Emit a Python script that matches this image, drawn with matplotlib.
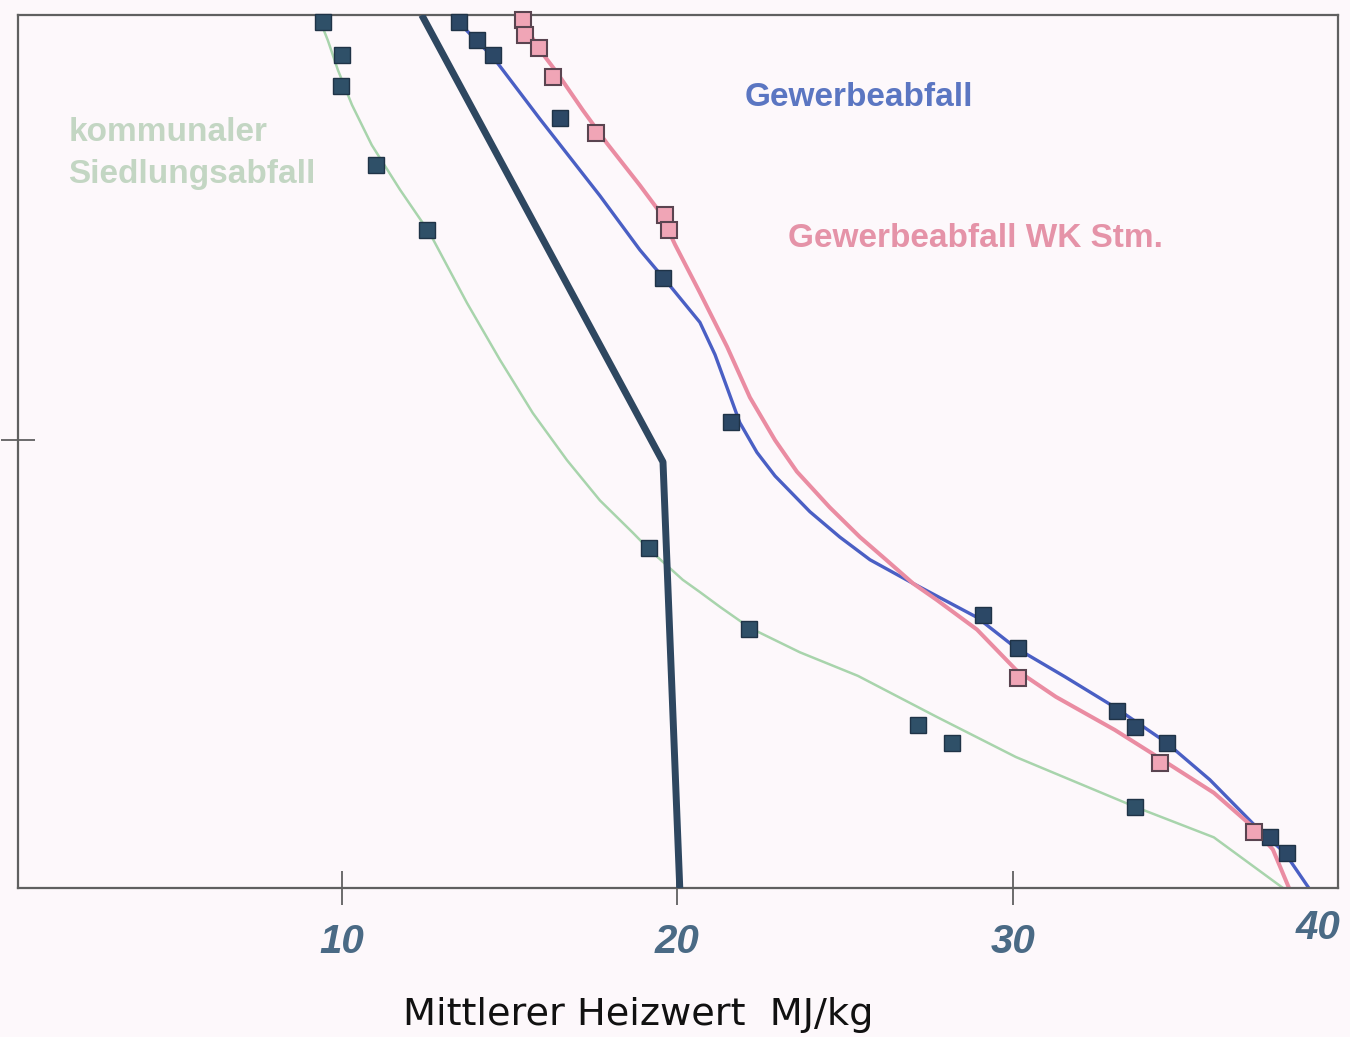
import numpy as np
import matplotlib.pyplot as plt

# kommunaler Siedlungsabfall (green)
green_x = [9.43, 10.0, 9.97, 11.01, 12.53, 19.15, 22.13, 27.17, 28.18, 33.64]
green_y = [99.2, 95.4, 91.9, 82.8, 75.4, 38.9, 29.7, 18.7, 16.6, 9.3]
green_cx = [9.28, 9.58, 9.88, 10.30, 10.89, 11.73, 12.62, 13.73, 14.71, 15.69, 16.71, 17.69,
            18.67, 19.18, 20.16, 20.67, 21.27, 22.16, 23.65, 25.38, 27.73, 30.09, 33.64, 35.99, 38.05]
green_cy = [100, 97.1, 93.7, 89.7, 85.1, 80.0, 75.0, 67.0, 60.5, 54.4, 49.0, 44.4,
            40.7, 38.7, 35.3, 33.9, 32.2, 29.8, 27.0, 24.3, 19.6, 15.0, 9.3, 5.8, 0]

# Gewerbeabfall (blue)
blue_x = [13.49, 14.02, 14.50, 16.50, 19.57, 21.59, 29.10, 30.15, 33.10, 33.64, 34.59, 37.66, 38.17]
blue_y = [99.2, 97.1, 95.4, 88.2, 69.9, 53.4, 31.3, 27.5, 20.3, 18.4, 16.6, 5.8, 4.0]
blue_cx = [13.28, 13.90, 14.50, 15.90, 17.69, 18.88, 19.69, 20.67, 21.12, 21.51, 21.86, 22.37,
           22.91, 23.95, 24.84, 25.74, 27.02, 28.93, 30.09, 31.55, 33.04, 34.56, 35.87, 37.15,
           38.11, 38.82]
blue_cy = [100, 97.5, 95.2, 88.1, 79.3, 73.1, 69.4, 64.8, 61.1, 57.0, 53.3, 49.9,
           47.2, 43.1, 40.2, 37.6, 34.9, 31.0, 27.5, 24.2, 20.7, 16.7, 12.4, 7.4,
           4.0, 0]

# Gewerbeabfall WK Stm. (pink)
pink_x = [15.40, 15.45, 15.87, 16.29, 17.57, 19.63, 19.75, 30.15, 34.38, 37.18]
pink_y = [99.4, 97.7, 96.2, 92.9, 86.5, 77.1, 75.4, 24.1, 14.3, 6.4]
pink_cx = [15.25, 15.90, 16.41, 17.18, 17.90, 18.88, 19.48, 19.93, 20.67, 21.48, 22.16, 22.91,
           23.56, 24.54, 25.44, 26.22, 27.02, 27.73, 28.93, 30.09, 31.28, 33.04, 34.32, 35.99,
           37.15, 37.75, 38.23]
pink_cy = [100, 96.0, 93.4, 89.1, 85.3, 80.5, 77.4, 73.7, 68.2, 62.0, 56.2, 51.3,
           47.7, 43.6, 40.2, 37.6, 34.9, 33.0, 29.6, 25.0, 21.9, 18.1, 15.0, 10.9,
           7.0, 4.4, 0]

# thick dark line
dark_x = [12.38, 19.57, 20.07]
dark_y = [100, 48.8, 0]

bg = '#fdf8fb'
fig = plt.figure(figsize=(13.5, 10.37), dpi=100, facecolor=bg)
ax = fig.add_axes([0.0133, 0.1437, 0.9778, 0.8418], facecolor=bg)

ax.plot(green_cx, green_cy, color='#a8d4ac', linewidth=1.8, zorder=2, solid_joinstyle='round')
ax.plot(blue_cx, blue_cy, color='#4a5fc4', linewidth=2.4, zorder=2, solid_joinstyle='round')
ax.plot(pink_cx, pink_cy, color='#ea8ca2', linewidth=2.9, zorder=2, solid_joinstyle='round')
ax.plot(dark_x, dark_y, color='#2e4760', linewidth=5, zorder=3, solid_capstyle='butt')

ax.plot(green_x, green_y, 's', ms=12, mfc='#2f5068', mec='#1f3347', mew=1, zorder=4, clip_on=False)
ax.plot(blue_x, blue_y, 's', ms=12, mfc='#2c4866', mec='#1f3347', mew=1, zorder=4, clip_on=False)
ax.plot(pink_x, pink_y, 's', ms=12, mfc='#f0a5b6', mec='#5a4450', mew=1.5, zorder=4, clip_on=False)

ax.set_xlim(0.343, 39.69)
ax.set_ylim(0, 100)

for s in ax.spines.values():
    s.set_color('#606060')
    s.set_linewidth(1.6)

ax.set_xticks([10, 20, 30])
ax.set_xticklabels(['10', '20', '30'])
ax.set_yticks([51.3])
ax.set_yticklabels([])
ax.tick_params(axis='x', direction='inout', length=25, width=1.3, color='#606060', pad=13,
               labelsize=29, labelcolor='#4a6a85')
ax.tick_params(axis='y', direction='inout', length=25, width=1.3, color='#606060')
for lab in ax.get_xticklabels():
    lab.set_fontfamily('Liberation Sans')
    lab.set_fontweight('bold')
    lab.set_fontstyle('italic')
ax.text(39.1, -0.046, '40', transform=ax.get_xaxis_transform(), ha='center', va='center',
        fontsize=29, fontfamily='Liberation Sans', fontweight='bold', fontstyle='italic',
        color='#4a6a85', clip_on=False)

ax.text(22.0, 90.5, 'Gewerbeabfall', fontsize=24, fontfamily='Liberation Sans',
        fontweight='bold', color='#5b76c2', va='center')
ax.text(23.3, 74.4, 'Gewerbeabfall WK Stm.', fontsize=24, fontfamily='Liberation Sans',
        fontweight='bold', color='#e593a8', va='center')
ax.text(1.84, 86.5, 'kommunaler', fontsize=24, fontfamily='Liberation Sans',
        fontweight='bold', color='#c3d6c3', va='center')
ax.text(1.84, 81.7, 'Siedlungsabfall', fontsize=24, fontfamily='Liberation Sans',
        fontweight='bold', color='#c3d6c3', va='center')

fig.text(0.4726, 0.021, 'Mittlerer Heizwert  MJ/kg', fontsize=27.5, fontfamily='DejaVu Sans',
         color='#111111', ha='center', va='center')

fig.savefig('out.png', dpi=100, facecolor=bg)
